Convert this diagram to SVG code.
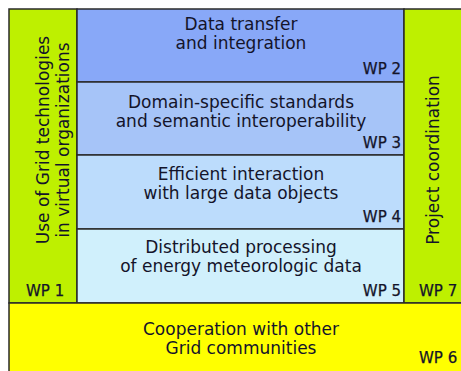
<svg xmlns="http://www.w3.org/2000/svg" width="461" height="371" viewBox="0 0 461 371">
  <style>
    .t { font-family: "DejaVu Sans", Verdana, sans-serif; font-size: 17px; fill: #14142a; }
    .wp { font-size: 15px; stroke: #14142a; stroke-width: 0.25; }
    .c { text-anchor: middle; }
    .r { text-anchor: end; }
    .box { stroke: #2a2a2a; stroke-width: 1.5; }
  </style>
  <rect x="0" y="0" width="461" height="371" fill="#ffffff"/>

  <g id="wp1">
    <rect class="box" x="9" y="9" width="68" height="294" fill="#bef000"/>
    <text class="t c" transform="translate(49 140) rotate(-90)">Use of Grid technologies</text>
    <text class="t c" transform="translate(69 140) rotate(-90)">in virtual organizations</text>
    <text class="t wp" x="26" y="296">WP 1</text>
  </g>

  <g id="wp2">
    <rect class="box" x="77" y="9" width="327" height="73" fill="#88a8f8"/>
    <text class="t c" x="241" y="30">Data transfer</text>
    <text class="t c" x="241" y="49">and integration</text>
    <text class="t wp r" x="401" y="74">WP 2</text>
  </g>

  <g id="wp3">
    <rect class="box" x="77" y="82" width="327" height="73" fill="#a6c4f8"/>
    <text class="t c" x="241" y="108">Domain-specific standards</text>
    <text class="t c" x="241" y="127">and semantic interoperability</text>
    <text class="t wp r" x="401" y="148">WP 3</text>
  </g>

  <g id="wp4">
    <rect class="box" x="77" y="155" width="327" height="74" fill="#bcdcfc"/>
    <text class="t c" x="241" y="180">Efficient interaction</text>
    <text class="t c" x="241" y="199">with large data objects</text>
    <text class="t wp r" x="401" y="222">WP 4</text>
  </g>

  <g id="wp5">
    <rect class="box" x="77" y="229" width="327" height="74" fill="#d0f0fc"/>
    <text class="t c" x="241" y="253">Distributed processing</text>
    <text class="t c" x="241" y="272">of energy meteorologic data</text>
    <text class="t wp r" x="401" y="296">WP 5</text>
  </g>

  <g id="wp7">
    <rect class="box" x="404" y="9" width="60" height="294" fill="#bef000"/>
    <text class="t c" transform="translate(439 160) rotate(-90)">Project coordination</text>
    <text class="t wp" x="419" y="296">WP 7</text>
  </g>

  <g id="wp6">
    <rect class="box" x="9" y="303" width="455" height="72" fill="#ffff00"/>
    <text class="t c" x="241" y="335">Cooperation with other</text>
    <text class="t c" x="241" y="354">Grid communities</text>
    <text class="t wp" x="419" y="363">WP 6</text>
  </g>

  <g id="connectors"/>
</svg>
